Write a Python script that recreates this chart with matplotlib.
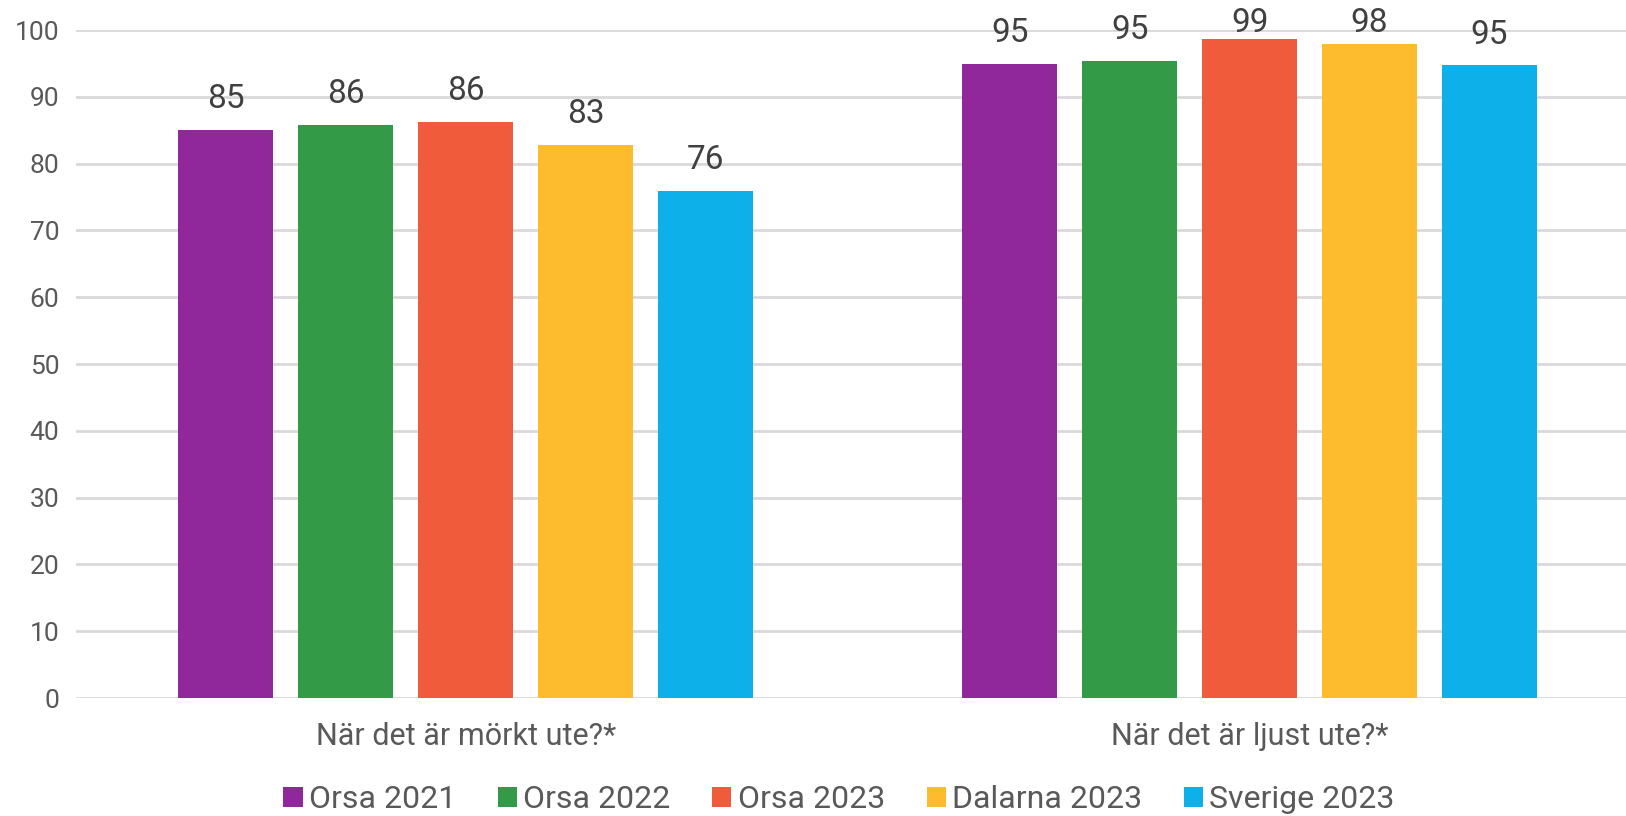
import numpy as np
import matplotlib.pyplot as plt
from matplotlib.patches import Patch

# %% Data
categories = ['När det är mörkt ute?*', 'När det är ljust ute?*']
series = ['Orsa 2021', 'Orsa 2022', 'Orsa 2023', 'Dalarna 2023', 'Sverige 2023']
values = [
    [85.0, 94.9],   # Orsa 2021
    [85.8, 95.4],   # Orsa 2022
    [86.2, 98.7],   # Orsa 2023
    [82.8, 97.9],   # Dalarna 2023
    [75.9, 94.7],   # Sverige 2023
]
colors = ['#90289B', '#339B47', '#F05B3C', '#FDBC2E', '#0EB0EA']
yticks = list(range(0, 101, 10))

# %% Figure setup
DPI = 100
plt.rcParams['font.family'] = ['Roboto', 'DejaVu Sans']
fig = plt.figure(figsize=(1626/DPI, 816/DPI), dpi=DPI)
ax = fig.add_axes([76/1626, 1-698/816, 1-76/1626, (698-30)/816])

x = np.arange(len(categories))
width = 0.121
pitch = 0.153

for i, (name, vals) in enumerate(zip(series, values)):
    pos = x + (i - 2) * pitch
    ax.bar(pos, vals, width=width, color=colors[i], label=name, zorder=3)
    # labels sit above the bars but get pushed down near the top edge
    for p, v in zip(pos, vals):
        ax.text(p, min(v + 4.6, 101.1), '%d' % round(v), ha='center', va='center',
                fontsize=24, color='#404040', clip_on=False, zorder=4)

ax.set_ylim(0, 100)
ax.set_xlim(-0.497, 1.48)
ax.set_yticks(yticks)
ax.tick_params(axis='y', length=0, labelsize=19, labelcolor='#595959', pad=12)
ax.set_xticks(x)
ax.set_xticklabels(categories)
ax.tick_params(axis='x', length=0, labelsize=22, labelcolor='#595959', pad=17)
ax.grid(axis='y', color='#D9D9D9', linewidth=2, zorder=0)
for s in ax.spines.values():
    s.set_visible(False)

handles = [Patch(facecolor=c) for c in colors]
fig.legend(handles, series, loc='center', bbox_to_anchor=(0.516, 1-800/816), ncol=5,
           frameon=False, fontsize=23, labelcolor='#595959',
           handlelength=0.6, handleheight=0.6, handletextpad=0.2, columnspacing=1.3)

plt.savefig('out.png', dpi=DPI)
